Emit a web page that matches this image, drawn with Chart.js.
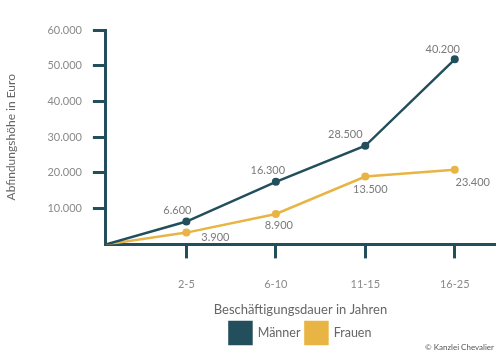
<!DOCTYPE html>
<html><head><meta charset="utf-8">
<script src="https://cdn.jsdelivr.net/npm/chart.js@4.4.1/dist/chart.umd.min.js"></script>
<style>
html,body{margin:0;padding:0;background:#fff;}
#wrap{position:relative;width:500px;height:357px;}
#copy{position:absolute;right:6px;top:342px;font:8px Lato, sans-serif;color:#555;}
</style></head>
<body><div id="wrap"><canvas id="c" width="500" height="357"></canvas><div id="copy">© Kanzlei Chevalier</div></div>
<script>
const categories = ["2-5", "6-10", "11-15", "16-25"];
const maenner = [6400, 17500, 27600, 51800];
const frauen = [3300, 8500, 19000, 20900];
const maennerLabels = ["6.600", "16.300", "28.500", "40.200"];
const frauenLabels = ["3.900", "8.900", "13.500", "23.400"];
const yTicks = [10000, 20000, 30000, 40000, 50000, 60000];

const TEAL = '#234f5d', GOLD = '#e8b443', GRAY = '#8a8a8a';
const X_MIN = 0.1, X_MAX = 4.45;
const fmt = v => String(v).replace(/\B(?=(\d{3})+(?!\d))/g, '.');
const toPts = arr => [{x: X_MIN, y: 0}].concat(arr.map((v, i) => ({x: i + 1, y: v})));

const labelPlugin = {
  id: 'vlabels',
  afterDatasetsDraw(chart) {
    const ctx = chart.ctx;
    const sets = [
      {texts: maennerLabels, off: [[-9,-11],[-8,-11],[-20,-11],[-12,-10]]},
      {texts: frauenLabels, off: [[29,5],[3,11],[5,13],[18,13]]}
    ];
    ctx.save();
    ctx.font = '11px Lato, sans-serif';
    ctx.fillStyle = '#7a7a7a';
    ctx.textAlign = 'center';
    ctx.textBaseline = 'middle';
    sets.forEach((s, d) => {
      const meta = chart.getDatasetMeta(d);
      s.texts.forEach((t, i) => {
        const p = meta.data[i + 1];
        ctx.fillText(t, p.x + s.off[i][0], p.y + s.off[i][1]);
      });
    });
    ctx.restore();
  }
};

new Chart(document.getElementById('c'), {
  type: 'line',
  data: {
    datasets: [
      {label: 'Männer', data: toPts(maenner), borderColor: TEAL, backgroundColor: TEAL,
       borderWidth: 2.5, pointRadius: [0,4,4,4,4], pointBackgroundColor: TEAL, pointBorderWidth: 0, tension: 0},
      {label: 'Frauen', data: toPts(frauen), borderColor: GOLD, backgroundColor: GOLD,
       borderWidth: 2.5, pointRadius: [0,4,4,4,4], pointBackgroundColor: GOLD, pointBorderWidth: 0, tension: 0}
    ]
  },
  options: {
    responsive: false, animation: false, devicePixelRatio: 1,
    layout: {padding: {left: 4, right: 5, top: 30, bottom: 3}},
    plugins: {
      tooltip: {enabled: false},
      legend: {
        position: 'bottom', fullSize: false,
        labels: {boxWidth: 22, boxHeight: 22, color: '#666', padding: 5,
                 font: {family: 'Lato, sans-serif', size: 12.5}}
      }
    },
    scales: {
      x: {
        type: 'linear', min: X_MIN, max: X_MAX,
        afterBuildTicks: s => { s.ticks = categories.map((c, i) => ({value: i + 1})); },
        ticks: {callback: (v) => categories[Math.round(v) - 1] || '', color: GRAY,
                font: {family: 'Lato, sans-serif', size: 11, lineHeight: 1.0}, padding: 21, maxRotation: 0, autoSkip: false},
        grid: {drawOnChartArea: false, drawTicks: true, tickLength: 14, tickColor: TEAL, tickWidth: 3},
        border: {color: TEAL, width: 3},
        title: {display: true, text: 'Beschäftigungsdauer in Jahren', color: '#666',
                font: {family: 'Lato, sans-serif', size: 13}, padding: {top: -9, bottom: -1}}
      },
      y: {
        min: 0, max: 60000,
        afterBuildTicks: s => { s.ticks = yTicks.map(v => ({value: v})); },
        ticks: {callback: v => fmt(v), color: GRAY, font: {family: 'Lato, sans-serif', size: 11}, padding: 11},
        grid: {drawOnChartArea: false, drawTicks: true, tickLength: 13, tickColor: TEAL, tickWidth: 3},
        border: {color: TEAL, width: 3},
        title: {display: true, text: 'Abfindungshöhe in Euro', color: '#666',
                font: {family: 'Lato, sans-serif', size: 12}, padding: {top: 0, bottom: 18}}
      }
    }
  },
  plugins: [labelPlugin]
});
</script>
</body></html>
